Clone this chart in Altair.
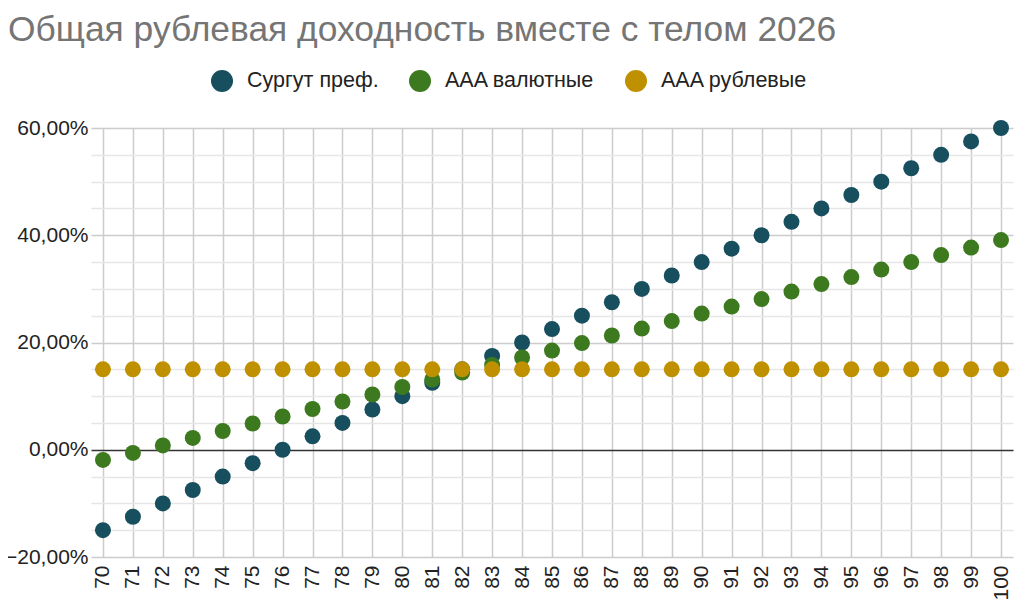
import altair as alt
import pandas as pd

strikes = list(range(70, 101))
series_names = ["Сургут преф.", "AAA валютные", "AAA рублевые"]
surgut = [-15, -12.5, -10, -7.5, -5, -2.5, 0, 2.5, 5, 7.5, 10, 12.5, 15, 17.5, 20,
          22.5, 25, 27.5, 30, 32.5, 35, 37.5, 40, 42.5, 45, 47.5, 50, 52.5, 55, 57.5, 60]
aaa_fx = [-1.9, -0.6, 0.8, 2.2, 3.5, 4.9, 6.2, 7.6, 9.0, 10.3, 11.7, 13.1, 14.4, 15.8, 17.2,
          18.5, 19.9, 21.3, 22.6, 24.0, 25.4, 26.7, 28.1, 29.5, 30.9, 32.2, 33.6, 35.0, 36.3, 37.7, 39.1]
aaa_rub = [15] * 31
colors = ["#174f5f", "#3d7a1f", "#bf9000"]
y_ticks = list(range(-20, 61, 5))

rows = []
for name, vals in zip(series_names, [surgut, aaa_fx, aaa_rub]):
    for k, v in zip(strikes, vals):
        rows.append({"strike": k, "value": v, "series": name})
df = pd.DataFrame(rows)

FONT = "Liberation Sans"

chart = alt.Chart(df).mark_point(filled=True, opacity=1, size=256).encode(
    x=alt.X("strike:O", title=None,
            scale=alt.Scale(padding=0.4),
            axis=alt.Axis(labelAngle=270, labelFontSize=21, labelFont=FONT, labelColor="#222",
                          domain=False, ticks=False, grid=True, gridColor="#cccccc", gridWidth=1.5,
                          labelPadding=8, labelAlign="right", labelBaseline="middle")),
    y=alt.Y("value:Q", title=None,
            scale=alt.Scale(domain=[-20, 60], nice=False),
            axis=alt.Axis(values=y_ticks, domain=False, ticks=False, labelPadding=3,
                          labelFontSize=21, labelFont=FONT, labelColor="#222",
                          labelExpr="datum.value % 20 === 0 ? replace(format(datum.value, '.2f'), '.', ',') + '%' : ''",
                          gridColor={"condition": [
                              {"test": "datum.value === 0", "value": "#333333"},
                              {"test": "datum.value % 20 === 0", "value": "#cccccc"}],
                              "value": "#e6e6e6"},
                          gridWidth=1.5)),
    color=alt.Color("series:N", scale=alt.Scale(domain=series_names, range=colors),
                    sort=series_names,
                    legend=alt.Legend(title=None, orient="none", direction="horizontal",
                                      legendX=120, legendY=-58, symbolType="circle",
                                      symbolSize=484, labelFontSize=21.5, labelFont=FONT,
                                      labelColor="#222", labelOffset=14, columnPadding=30,
                                      symbolStrokeWidth=0)),
    order=alt.Order("series_order:Q"),
).transform_calculate(
    series_order="indexof(['Сургут преф.', 'AAA валютные', 'AAA рублевые'], datum.series)"
).properties(
    width=922, height=429,
    autosize=alt.AutoSizeParams(type="none"),
    padding={"left": 83, "top": 120, "right": 3, "bottom": 44},
    title=alt.TitleParams("Общая рублевая доходность вместе с телом 2026", anchor="start",
                          frame="group", fontSize=35.4, font=FONT, color="#757575",
                          fontWeight="normal", dx=-83, offset=22),
).configure_view(stroke=None)

chart.save("out.html", embed_options={"renderer": "svg", "actions": False})
